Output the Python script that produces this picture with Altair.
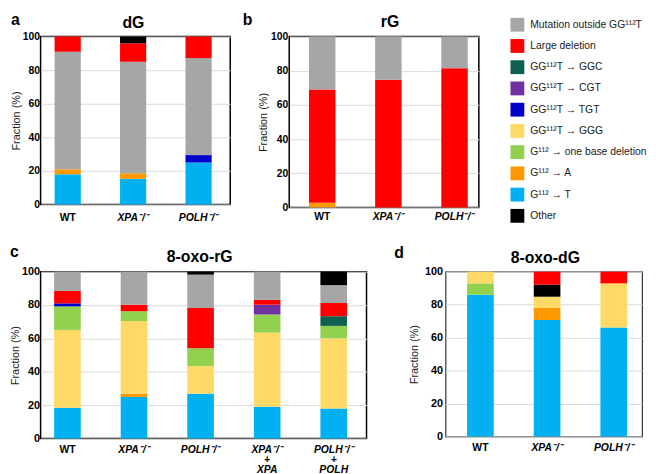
import altair as alt
import pandas as pd

FONT = "Liberation Sans"

# ---- categories (legend order) ----
cat_keys = ["out", "large", "GGC", "CGT", "TGT", "GGG", "del1", "A", "T", "other"]
cat_labels = [
    "Mutation outside GG¹¹²T",
    "Large deletion",
    "GG¹¹²T → GGC",
    "GG¹¹²T → CGT",
    "GG¹¹²T → TGT",
    "GG¹¹²T → GGG",
    "G¹¹² → one base deletion",
    "G¹¹² → A",
    "G¹¹² → T",
    "Other",
]
cat_colors = ["#a6a6a6", "#ff0000", "#0e6150", "#7030a0", "#0000cd",
              "#ffd966", "#92d050", "#ff9900", "#00b0f0", "#000000"]
LABEL = dict(zip(cat_keys, cat_labels))

# ---- panel a : dG ----
a_samples = ["WT", "XPA⁻/⁻", "POLH⁻/⁻"]
a_stack = ["T", "A", "TGT", "out", "large", "other"]
a_T = [18.0, 15.3, 25.0]
a_A = [3.0, 3.3, 0.0]
a_TGT = [0.0, 0.0, 4.4]
a_out = [70.0, 66.4, 57.8]
a_large = [9.0, 11.0, 12.8]
a_other = [0.0, 4.0, 0.0]

# ---- panel b : rG ----
b_samples = ["WT", "XPA⁻/⁻", "POLH⁻/⁻"]
b_stack = ["A", "large", "out"]
b_A = [2.7, 0.0, 0.0]
b_large = [66.3, 74.8, 81.5]
b_out = [31.0, 25.2, 18.5]

# ---- panel c : 8-oxo-rG ----
c_samples = ["WT", "XPA⁻/⁻", "POLH⁻/⁻", "XPA⁻/⁻|+|XPA", "POLH⁻/⁻|+|POLH"]
c_stack = ["T", "A", "GGG", "del1", "TGT", "CGT", "GGC", "large", "out", "other"]
c_T = [18.4, 24.9, 26.9, 19.0, 18.0]
c_A = [0.0, 2.0, 0.0, 0.0, 0.0]
c_GGG = [46.7, 43.5, 16.6, 44.5, 42.0]
c_del1 = [14.1, 5.9, 10.6, 10.8, 7.5]
c_TGT = [1.8, 0.0, 0.0, 0.0, 0.0]
c_CGT = [0.0, 0.0, 0.0, 5.9, 0.0]
c_GGC = [0.0, 0.0, 0.0, 0.0, 5.8]
c_large = [7.4, 3.9, 24.1, 2.9, 7.9]
c_out = [11.6, 19.8, 20.0, 16.9, 10.7]
c_other = [0.0, 0.0, 1.8, 0.0, 8.1]

# ---- panel d : 8-oxo-dG ----
d_samples = ["WT", "XPA⁻/⁻", "POLH⁻/⁻"]
d_stack = ["T", "A", "del1", "GGG", "other", "large"]
d_T = [86.0, 70.7, 66.2]
d_A = [0.0, 7.3, 0.0]
d_del1 = [6.9, 0.0, 0.0]
d_GGG = [7.1, 6.8, 26.7]
d_other = [0.0, 7.3, 0.0]
d_large = [0.0, 7.9, 7.1]

y_ticks = [0, 20, 40, 60, 80, 100]


def panel_df(samples, stack, vals):
    rows = []
    for k_i, k in enumerate(stack):
        for s_i, s in enumerate(samples):
            v = vals[k][s_i]
            if v > 0:
                rows.append({"sample": s, "cat": LABEL[k], "value": v, "stack": k_i})
    return pd.DataFrame(rows)


def make_panel(df, samples, title, tx, ty, letter, lx, ly,
               width, height, x_lpad, y_lpad, y_lsize, t_pad, stroke, stroke_w=1.5,
               legend=None, p_outer=0.3, p_inner=0.6, b_align=0.5):
    color_scale = alt.Scale(domain=cat_labels, range=cat_colors)
    bars = alt.Chart(df).mark_bar().encode(
        x=alt.X("sample:N", sort=samples,
                scale=alt.Scale(paddingInner=p_inner, paddingOuter=p_outer, align=b_align),
                axis=alt.Axis(title=None, labelAngle=0, domain=False, ticks=False,
                              labelPadding=x_lpad, labelFont=FONT, labelFontSize=10.5,
                              labelFontWeight="bold", labelColor="black",
                              labelLineHeight=10,
                              labelExpr="split(datum.label, '|')",
                              labelFontStyle={"condition": {"test": "datum.value === 'WT'", "value": "normal"},
                                              "value": "italic"})),
        y=alt.Y("value:Q", stack="zero", scale=alt.Scale(domain=[0, 100], nice=False),
                axis=alt.Axis(title="Fraction (%)", values=y_ticks, domain=False, ticks=False,
                              labelPadding=y_lpad, labelFont=FONT, labelFontSize=y_lsize,
                              labelFontWeight="bold", labelColor="black",
                              titleFont=FONT, titleFontSize=11, titleFontWeight="normal",
                              titleColor="#222", titlePadding=t_pad,
                              grid=True, gridColor="#dadada", gridWidth=1)),
        color=alt.Color("cat:N", scale=color_scale, legend=legend),
        order=alt.Order("stack:Q", sort="ascending"),
    )
    lab = alt.Chart(pd.DataFrame({"t": [letter]})).mark_text(
        align="left", baseline="alphabetic", font=FONT, fontSize=16,
        fontWeight="bold", color="black"
    ).encode(x=alt.value(lx), y=alt.value(ly), text="t:N")
    ttl = alt.Chart(pd.DataFrame({"t": [title]})).mark_text(
        align="center", baseline="alphabetic", font=FONT, fontSize=16,
        fontWeight="bold", color="black"
    ).encode(x=alt.value(width / 2 + tx), y=alt.value(ty), text="t:N")
    return alt.layer(bars, lab, ttl).properties(
        width=width, height=height,
        view=alt.ViewBackground(stroke=stroke, strokeWidth=stroke_w),
    )


df_a = panel_df(a_samples, a_stack, {"T": a_T, "A": a_A, "TGT": a_TGT, "out": a_out,
                                     "large": a_large, "other": a_other})
df_b = panel_df(b_samples, b_stack, {"A": b_A, "large": b_large, "out": b_out})
df_c = panel_df(c_samples, c_stack, {"T": c_T, "A": c_A, "GGG": c_GGG, "del1": c_del1,
                                     "TGT": c_TGT, "CGT": c_CGT, "GGC": c_GGC,
                                     "large": c_large, "out": c_out, "other": c_other})
df_d = panel_df(d_samples, d_stack, {"T": d_T, "A": d_A, "del1": d_del1, "GGG": d_GGG,
                                     "other": d_other, "large": d_large})

legend_b = alt.Legend(title=None, orient="none", legendX=224, legendY=-19,
                      symbolType="square", symbolSize=196, symbolStrokeWidth=0,
                      symbolOpacity=1, labelFont=FONT, labelFontSize=10.5,
                      labelColor="#222", labelOffset=6, rowPadding=7.5,
                      padding=0, labelLimit=300)

pa = make_panel(df_a, a_samples, "dG", -2, -8.6, "a", -30, -12, 192, 170, 8, 1, 10.5, 1, "black",
                p_outer=0.249, b_align=0.43)
pb = make_panel(df_b, b_samples, "rG", 6, -9.6, "b", -47, -12, 192, 173, 4, 1.5, 10.5, 2, "black",
                legend=legend_b, p_outer=0.233, b_align=0.64)
pc = make_panel(df_c, c_samples, "8-oxo-rG", -3.9, -9.7, "c", -31, -15, 330, 169, 6, 1, 11, 1, "black",
                p_outer=0.248, b_align=0.41)
pd_ = make_panel(df_d, d_samples, "8-oxo-dG", 1.5, -8.3, "d", -52, -14, 199, 167, 6, 3, 11, 4.7, "#333",
                 stroke_w=1.2, p_outer=0.274, b_align=0.59)

row1 = alt.hconcat(pa, pb, spacing=10.75).resolve_scale(color="independent").resolve_legend(color="independent")
row2 = alt.hconcat(pc, pd_, spacing=26).resolve_scale(color="independent").resolve_legend(color="independent")

chart = alt.vconcat(row1, row2, spacing=19).resolve_scale(color="independent").resolve_legend(
    color="independent").properties(
    padding={"left": 0, "top": 0, "right": 0, "bottom": 0}
).configure(font=FONT).configure_view(stroke="black")

chart.save("out.html", embed_options={"renderer": "svg", "actions": False})
